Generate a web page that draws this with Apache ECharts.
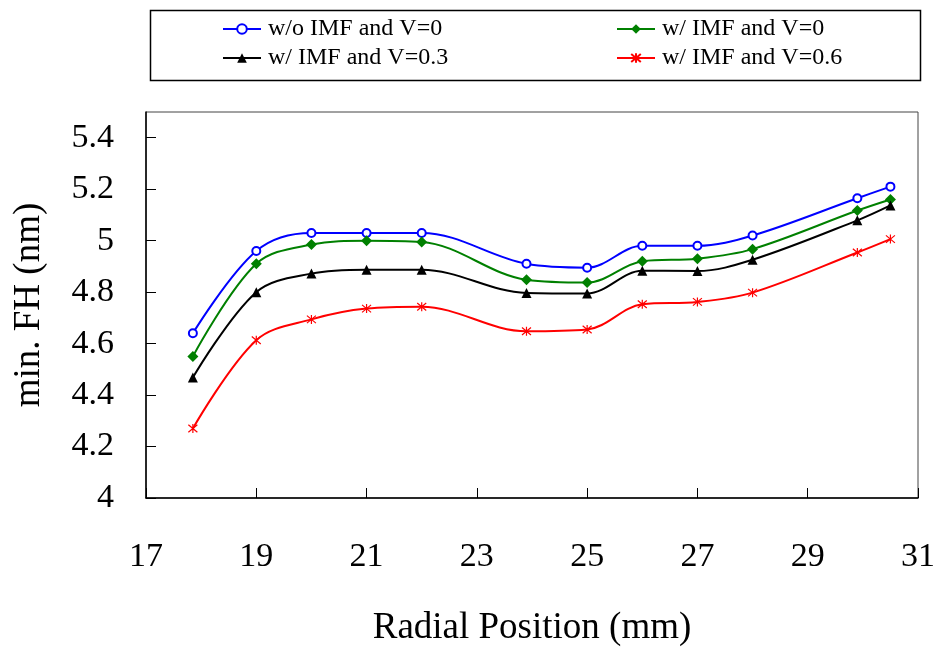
<!DOCTYPE html>
<html>
<head>
<meta charset="utf-8">
<script src="https://cdn.jsdelivr.net/npm/echarts@6/dist/echarts.min.js"></script>
<style>html,body{margin:0;padding:0;background:#fff;}#c{width:938px;height:652px;}</style>
</head>
<body>
<div id="c"></div>
<script>
var radialPos = [17.85, 19, 20, 21, 22, 23.9, 25, 26, 27, 28, 29.9, 30.5];
var woImfV0 = [4.64, 4.96, 5.03, 5.03, 5.03, 4.91, 4.895, 4.98, 4.98, 5.02, 5.165, 5.21];
var wImfV0 = [4.55, 4.91, 4.985, 5.0, 4.995, 4.848, 4.837, 4.92, 4.93, 4.967, 5.117, 5.16];
var wImfV03 = [4.468, 4.8, 4.872, 4.887, 4.887, 4.797, 4.795, 4.883, 4.882, 4.926, 5.079, 5.137];
var wImfV06 = [4.27, 4.613, 4.694, 4.736, 4.743, 4.648, 4.655, 4.753, 4.762, 4.798, 4.954, 5.006];
var seriesNames = ['w/o IMF and V=0', 'w/ IMF and V=0', 'w/ IMF and V=0.3', 'w/ IMF and V=0.6'];

function pairs(ys) { return radialPos.map(function (x, i) { return [x, ys[i]]; }); }

var FONT = '"Liberation Serif", "Times New Roman", "DejaVu Serif", serif';
var star = 'path://M0,0 L10,10 M10,0 L0,10 M5,-1 L5,11';

function legendAt(name, left, top) {
  return {
    data: [name], left: left, top: top, padding: 0, itemWidth: 38, itemHeight: 12,
    itemGap: 4, textStyle: { fontFamily: FONT, fontSize: 24, color: '#000', padding: [0, 0, 0, 2] }
  };
}

var option = {
  backgroundColor: '#fff',
  animation: false,
  graphic: [{
    type: 'rect', left: 148, top: 8, shape: { width: 770, height: 70 },
    style: { fill: 'none', stroke: '#000', lineWidth: 1.5 }
  }],
  legend: [
    legendAt(seriesNames[0], 222, 17),
    legendAt(seriesNames[1], 616, 17),
    legendAt(seriesNames[2], 222, 46),
    legendAt(seriesNames[3], 616, 46)
  ],
  grid: { left: 146, right: 19, top: 112, bottom: 149, show: true, borderColor: '#444', borderWidth: 1 },
  xAxis: {
    type: 'value', min: 17, max: 31, interval: 2,
    name: 'Radial Position (mm)', nameLocation: 'middle', nameGap: 112,
    nameTextStyle: { fontFamily: FONT, fontSize: 37, color: '#000' },
    axisLine: { lineStyle: { color: '#000', width: 1.5 } },
    axisTick: { inside: true, length: 10, lineStyle: { color: '#000' } },
    axisLabel: { fontFamily: FONT, fontSize: 34, color: '#000', margin: 42 },
    splitLine: { show: false }
  },
  yAxis: {
    type: 'value', min: 4, max: 5.5, interval: 0.2,
    name: 'min. FH (nm)', nameLocation: 'middle', nameGap: 98, nameRotate: 90,
    nameTextStyle: { fontFamily: FONT, fontSize: 37, color: '#000' },
    axisLine: { show: true, lineStyle: { color: '#000', width: 1.5 } },
    axisTick: { show: true, inside: true, length: 10, lineStyle: { color: '#000' } },
    axisLabel: { fontFamily: FONT, fontSize: 34, color: '#000', margin: 32, showMaxLabel: false },
    splitLine: { show: false }
  },
  series: [
    {
      name: seriesNames[0], type: 'line', data: pairs(woImfV0), smooth: 0.35,
      symbol: 'emptyCircle', symbolSize: 8,
      lineStyle: { color: '#0000ff', width: 2 },
      itemStyle: { color: '#0000ff', borderColor: '#0000ff', borderWidth: 1 }
    },
    {
      name: seriesNames[1], type: 'line', data: pairs(wImfV0), smooth: 0.35,
      symbol: 'diamond', symbolSize: 11,
      lineStyle: { color: '#008000', width: 2 },
      itemStyle: { color: '#008000' }
    },
    {
      name: seriesNames[2], type: 'line', data: pairs(wImfV03), smooth: 0.35,
      symbol: 'triangle', symbolSize: 10,
      lineStyle: { color: '#000000', width: 2 },
      itemStyle: { color: '#000000' }
    },
    {
      name: seriesNames[3], type: 'line', data: pairs(wImfV06), smooth: 0.35,
      symbol: star, symbolSize: 9,
      lineStyle: { color: '#ff0000', width: 2 },
      itemStyle: { color: '#ff0000', borderColor: '#ff0000', borderWidth: 1.2 }
    }
  ]
};

var chart = echarts.init(document.getElementById('c'), null, { renderer: 'canvas' });
chart.setOption(option);
</script>
</body>
</html>
